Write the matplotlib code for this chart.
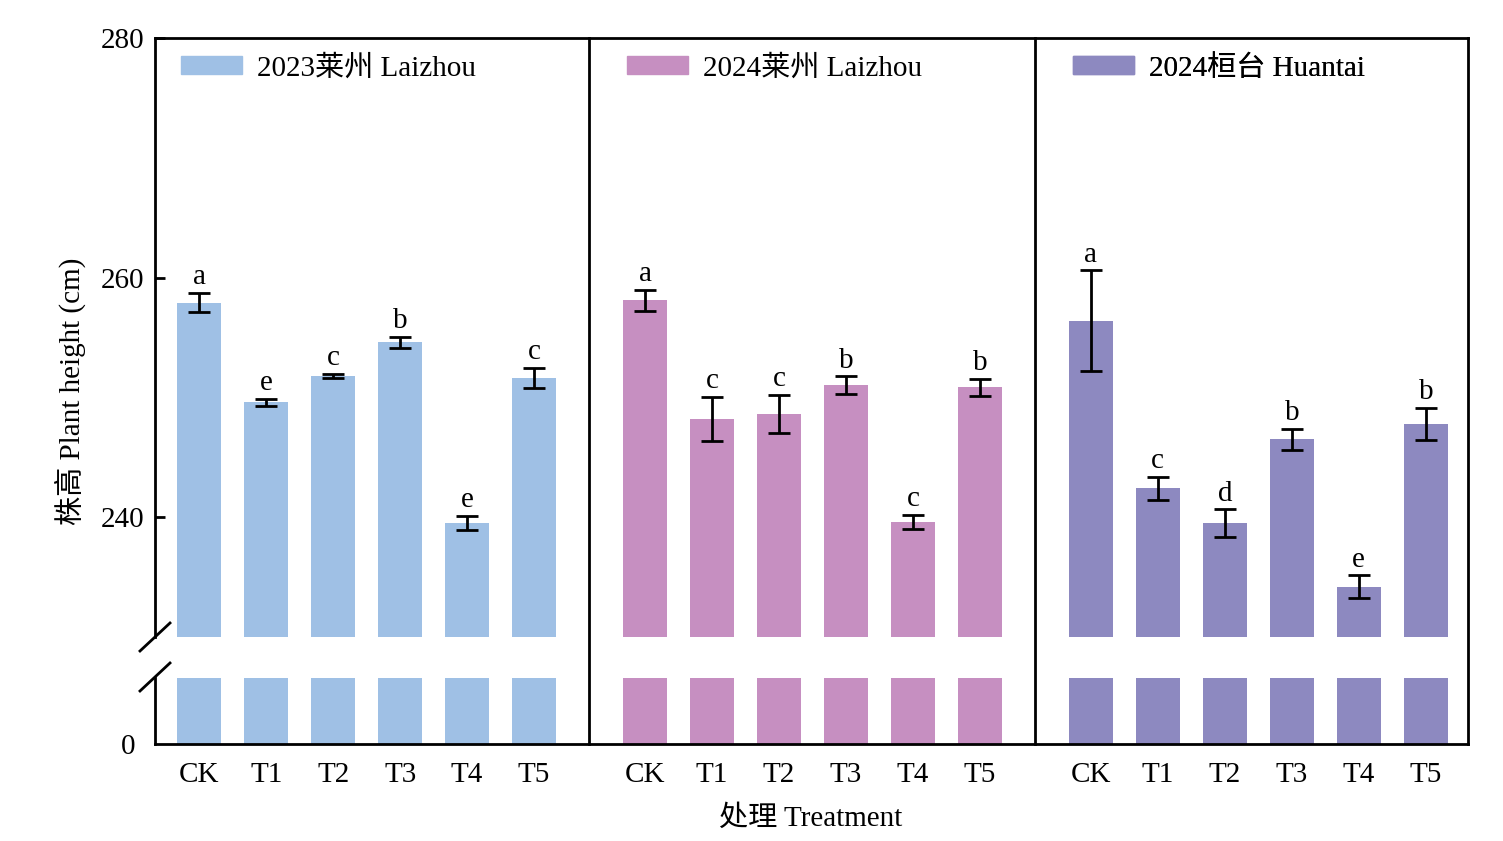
import numpy as np
import matplotlib
matplotlib.use("Agg")
import matplotlib.pyplot as plt
import matplotlib.transforms as mtransforms
from matplotlib.lines import Line2D
from matplotlib.patches import Patch

plt.rcParams['font.family'] = ['Liberation Serif', 'Noto Sans CJK SC']
plt.rcParams['font.size'] = 21

treatments = ['CK', 'T1', 'T2', 'T3', 'T4', 'T5']
sites = ['2023莱州 Laizhou', '2024莱州 Laizhou', '2024桓台 Huantai']
colors = ['#9FC0E5', '#C68FC1', '#8D89C0']

height_2023_lz = [257.9, 249.6, 251.8, 254.6, 239.5, 251.6]
err_2023_lz = [0.8, 0.3, 0.15, 0.45, 0.6, 0.85]
letters_2023_lz = ['a', 'e', 'c', 'b', 'e', 'c']

height_2024_lz = [258.1, 248.2, 248.6, 251.0, 239.6, 250.85]
err_2024_lz = [0.9, 1.85, 1.6, 0.75, 0.6, 0.7]
letters_2024_lz = ['a', 'c', 'c', 'b', 'c', 'b']

height_2024_ht = [256.4, 242.4, 239.5, 246.5, 234.2, 247.8]
err_2024_ht = [4.2, 0.95, 1.15, 0.85, 0.95, 1.35]
letters_2024_ht = ['a', 'c', 'd', 'b', 'e', 'b']

heights = [height_2023_lz, height_2024_lz, height_2024_ht]
errs = [err_2023_lz, err_2024_lz, err_2024_ht]
letters = [letters_2023_lz, letters_2024_lz, letters_2024_ht]

W, H = 1503, 841
fig = plt.figure(figsize=(W / 100, H / 100), dpi=100)
left, right = 155, 1468
ax_u = fig.add_axes([left / W, 1 - 637 / H, (right - left) / W, (637 - 38) / H])
ax_l = fig.add_axes([left / W, 1 - 744 / H, (right - left) / W, (744 - 678) / H])

gstep = 6.655
bw = 0.66
fs = 21
all_x = []
for g in range(3):
    xs = g * gstep + np.arange(len(treatments))
    all_x.extend(xs)
    for ax in (ax_u, ax_l):
        ax.bar(xs, heights[g], width=bw, color=colors[g], zorder=2)
    ax_u.errorbar(xs, heights[g], yerr=errs[g], fmt='none', ecolor='black',
                  elinewidth=2, capsize=8, capthick=2, zorder=3)
    for x, h, e, lab in zip(xs, heights[g], errs[g], letters[g]):
        ax_u.annotate(lab, (x, h + e), xytext=(0, 2), textcoords='offset points',
                      ha='center', va='bottom', fontsize=fs)
    # legend per panel
    trans = mtransforms.blended_transform_factory(ax_u.transData, ax_u.transAxes)
    leg = ax_u.legend(handles=[Patch(color=colors[g])], labels=[sites[g]],
                      loc='upper left', bbox_to_anchor=(g * gstep - 0.27, 0.972),
                      bbox_transform=trans, frameon=False, borderpad=0,
                      borderaxespad=0, handlelength=2.1, handleheight=0.55,
                      handletextpad=0.5, fontsize=fs)
    ax_u.add_artist(leg)

for ax in (ax_u, ax_l):
    ax.set_xlim(-0.66, 18.94)
    ax.spines['right'].set_visible(False)
    for s in ax.spines.values():
        s.set_linewidth(2)

ax_u.set_ylim(230, 280)
ax_u.set_yticks([240, 260, 280])
ax_u.spines['bottom'].set_visible(False)
ax_u.set_xticks([])
ax_u.tick_params(axis='y', direction='in', length=7, width=2, pad=8, labelsize=fs)

ax_l.set_ylim(0, 30)
ax_l.set_yticks([0])
ax_l.spines['top'].set_visible(False)
ax_l.set_xticks(all_x)
ax_l.set_xticklabels(treatments * 3)
ax_l.tick_params(axis='y', length=0, pad=14, labelsize=fs)
ax_l.tick_params(axis='x', direction='in', length=7, width=2, pad=13, labelsize=fs)

# panel dividers and right border spanning the break
for xp in (589, 1035, 1468):
    fig.add_artist(Line2D([xp / W, xp / W], [1 - 38 / H, 1 - 744 / H],
                          transform=fig.transFigure, color='black', lw=2))

# break marks on the left axis
for yp in (637, 677):
    fig.add_artist(Line2D([(left - 15) / W, (left + 15) / W],
                          [1 - (yp + 14) / H, 1 - (yp - 14) / H],
                          transform=fig.transFigure, color='black', lw=2))

fig.text(811 / W, 1 - 819 / H, '处理 Treatment', ha='center', va='center', fontsize=fs)
fig.text(70 / W, 1 - 391 / H, '株高 Plant height (cm)', ha='center', va='center',
         rotation=90, fontsize=fs)

fig.savefig('out.png', dpi=100)
